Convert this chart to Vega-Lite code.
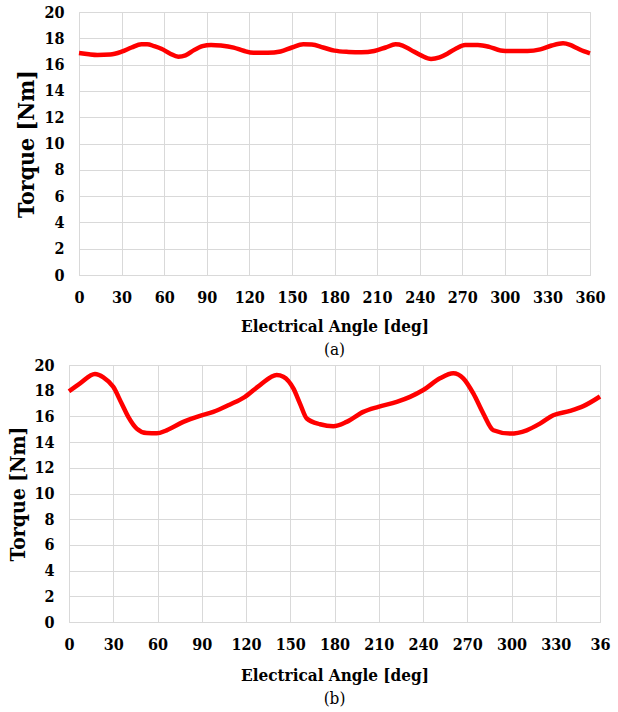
{
  "$schema": "https://vega.github.io/schema/vega-lite/v6.json",
  "background": "white",
  "padding": {"left": 7, "top": 3, "right": 5, "bottom": 2},
  "bounds": "flush",
  "center": true,
  "spacing": 90,
  "config": {
    "view": {"stroke": "#d9d9d9"},
    "axis": {
      "gridColor": "#d9d9d9",
      "gridWidth": 1,
      "domainColor": "#d9d9d9",
      "ticks": false,
      "labelFont": "DejaVu Serif Condensed",
      "labelFontWeight": "bold",
      "labelFontSize": 16,
      "labelColor": "black",
      "titleFont": "DejaVu Serif Condensed",
      "titleFontWeight": "bold",
      "titleColor": "black"
    },
    "title": {"font": "DejaVu Serif Condensed", "fontWeight": "normal", "fontSize": 17, "color": "black", "orient": "bottom", "offset": 8}
  },
  "datasets": {
    "a": [
      {"angle": 0, "torque": 16.88}, {"angle": 7, "torque": 16.78}, {"angle": 13, "torque": 16.73}, {"angle": 22, "torque": 16.76},
      {"angle": 30, "torque": 16.98}, {"angle": 37, "torque": 17.3}, {"angle": 44, "torque": 17.55}, {"angle": 48, "torque": 17.55},
      {"angle": 53, "torque": 17.4}, {"angle": 58, "torque": 17.2}, {"angle": 64, "torque": 16.85}, {"angle": 70, "torque": 16.6},
      {"angle": 75, "torque": 16.7}, {"angle": 81, "torque": 17.1}, {"angle": 87, "torque": 17.4}, {"angle": 93, "torque": 17.5},
      {"angle": 100, "torque": 17.45}, {"angle": 109, "torque": 17.29}, {"angle": 116, "torque": 17.05}, {"angle": 123, "torque": 16.9},
      {"angle": 133, "torque": 16.9}, {"angle": 142, "torque": 17.0}, {"angle": 150, "torque": 17.3}, {"angle": 158, "torque": 17.54},
      {"angle": 164, "torque": 17.52}, {"angle": 172, "torque": 17.3}, {"angle": 180, "torque": 17.06}, {"angle": 190, "torque": 16.96},
      {"angle": 199, "torque": 16.93}, {"angle": 208, "torque": 17.03}, {"angle": 216, "torque": 17.3}, {"angle": 223, "torque": 17.54},
      {"angle": 228, "torque": 17.45}, {"angle": 234, "torque": 17.1}, {"angle": 241, "torque": 16.7}, {"angle": 248, "torque": 16.43},
      {"angle": 254, "torque": 16.55}, {"angle": 260, "torque": 16.86}, {"angle": 266, "torque": 17.25}, {"angle": 272, "torque": 17.49},
      {"angle": 281, "torque": 17.49}, {"angle": 289, "torque": 17.35}, {"angle": 297, "torque": 17.08}, {"angle": 306, "torque": 17.03},
      {"angle": 316, "torque": 17.03}, {"angle": 325, "torque": 17.16}, {"angle": 333, "torque": 17.45}, {"angle": 341, "torque": 17.62},
      {"angle": 346, "torque": 17.5}, {"angle": 351, "torque": 17.24}, {"angle": 356, "torque": 17.0}, {"angle": 360, "torque": 16.86}
    ],
    "b": [
      {"angle": 0, "torque": 17.95}, {"angle": 7.5, "torque": 18.57}, {"angle": 17.6, "torque": 19.3}, {"angle": 23.3, "torque": 19.04},
      {"angle": 30, "torque": 18.3}, {"angle": 35.7, "torque": 17.0}, {"angle": 40.2, "torque": 15.96}, {"angle": 45.9, "torque": 15.05},
      {"angle": 52.7, "torque": 14.7}, {"angle": 59.5, "torque": 14.68}, {"angle": 66.2, "torque": 14.92}, {"angle": 77.5, "torque": 15.57},
      {"angle": 88.8, "torque": 16.04}, {"angle": 97.8, "torque": 16.35}, {"angle": 109.2, "torque": 16.93}, {"angle": 119.3, "torque": 17.52},
      {"angle": 129.5, "torque": 18.44}, {"angle": 140.8, "torque": 19.22}, {"angle": 145.3, "torque": 19.09}, {"angle": 152.1, "torque": 18.18},
      {"angle": 156.6, "torque": 17.0}, {"angle": 161.2, "torque": 15.84}, {"angle": 170.2, "torque": 15.39}, {"angle": 179.2, "torque": 15.23},
      {"angle": 188.2, "torque": 15.57}, {"angle": 199.5, "torque": 16.35}, {"angle": 209.7, "torque": 16.74}, {"angle": 222.2, "torque": 17.13},
      {"angle": 231.2, "torque": 17.52}, {"angle": 240.2, "torque": 18.05}, {"angle": 251.5, "torque": 18.96}, {"angle": 260.5, "torque": 19.35},
      {"angle": 267.3, "torque": 18.96}, {"angle": 274.1, "torque": 17.79}, {"angle": 280.9, "torque": 16.22}, {"angle": 287.7, "torque": 14.92},
      {"angle": 299, "torque": 14.66}, {"angle": 310.3, "torque": 14.92}, {"angle": 319.3, "torque": 15.44}, {"angle": 328.3, "torque": 16.09},
      {"angle": 339.7, "torque": 16.43}, {"angle": 348.7, "torque": 16.8}, {"angle": 360, "torque": 17.55}
    ]
  },
  "vconcat": [
    {
      "width": 511,
      "height": 263,
      "title": "(a)",
      "data": {"name": "a"},
      "mark": {"type": "line", "color": "#ff0000", "strokeWidth": 4.5, "interpolate": "monotone"},
      "encoding": {
        "x": {"field": "angle", "type": "quantitative", "scale": {"domain": [0, 360], "nice": false},
              "axis": {"values": [0,30,60,90,120,150,180,210,240,270,300,330,360], "labelFlush": false, "labelPadding": 14, "title": "Electrical Angle [deg]", "titleFontSize": 17, "titlePadding": 13}},
        "y": {"field": "torque", "type": "quantitative", "scale": {"domain": [0, 20], "nice": false},
              "axis": {"values": [0,2,4,6,8,10,12,14,16,18,20], "domain": false, "labelPadding": 15, "title": "Torque [Nm]", "titleFontSize": 23, "titlePadding": 5}}
      }
    },
    {
      "width": 531,
      "height": 257,
      "title": "(b)",
      "data": {"name": "b"},
      "mark": {"type": "line", "color": "#ff0000", "strokeWidth": 4.5, "interpolate": "monotone"},
      "encoding": {
        "x": {"field": "angle", "type": "quantitative", "scale": {"domain": [0, 360], "nice": false},
              "axis": {"values": [0,30,60,90,120,150,180,210,240,270,300,330,360], "labelFlush": false, "labelPadding": 14, "labelExpr": "datum.value === 360 ? '36\u2007' : datum.label", "title": "Electrical Angle [deg]", "titleFontSize": 17, "titlePadding": 15}},
        "y": {"field": "torque", "type": "quantitative", "scale": {"domain": [0, 20], "nice": false},
              "axis": {"values": [0,2,4,6,8,10,12,14,16,18,20], "domain": false, "labelPadding": 15, "title": "Torque [Nm]", "titleFontSize": 21, "titlePadding": 5}}
      }
    }
  ]
}
